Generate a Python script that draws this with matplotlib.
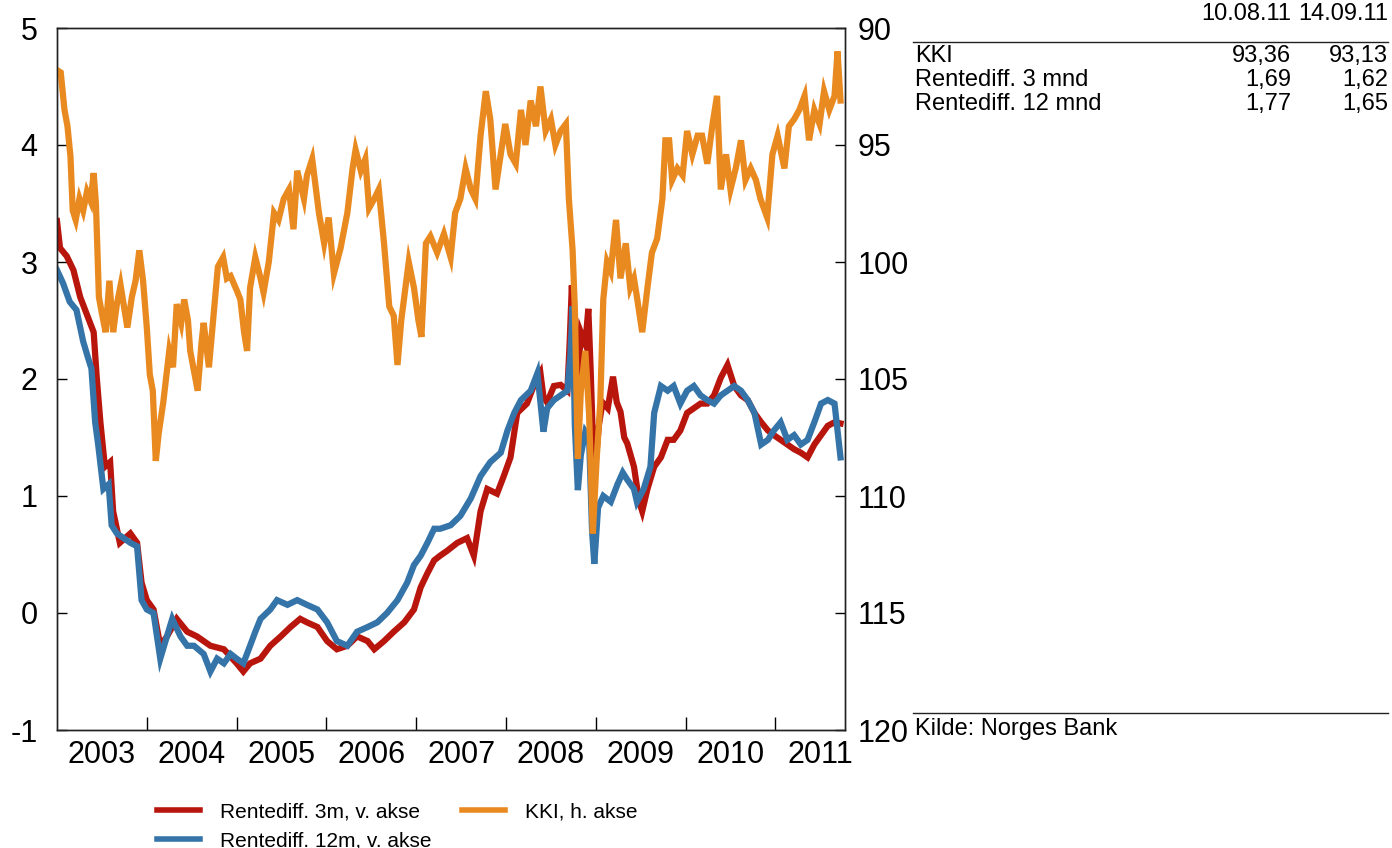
import matplotlib
matplotlib.use("Agg")
import matplotlib.pyplot as plt
from matplotlib.lines import Line2D
import numpy as np

plt.rcParams['font.family'] = ['Liberation Sans', 'DejaVu Sans']

# ---- data (months since Jan 2003, value) ----
kki_m = [0, 0.5, 1.0, 1.4, 1.8, 2.1, 2.5, 3.0, 3.5, 4.0, 4.5, 4.9, 5.2, 5.6, 6.0, 6.5, 7.0, 7.5, 8.0, 8.5,
         9.0, 9.4, 10.0, 10.5, 11.0, 11.5, 12.0, 12.4, 12.8, 13.2, 13.6, 14.2, 15.0, 15.5, 16.0, 16.6, 17.0,
         17.5, 17.8, 18.5, 18.8, 19.3, 19.6, 20.3, 21.0, 21.5, 22.2, 22.7, 23.2, 24.0, 24.5, 25.0, 25.4, 25.8,
         26.5, 27.2, 27.6, 28.3, 29.0, 29.6, 30.3, 31.0, 31.6, 32.1, 33.0, 33.4, 34.1, 35.0, 35.7, 36.3, 37.0,
         37.9, 38.8, 39.5, 39.9, 40.6, 41.2, 41.7, 42.4, 43.0, 43.7, 44.4, 45.0, 45.5, 46.0, 46.4, 47.0, 47.7,
         48.3, 48.7, 49.3, 49.9, 50.8, 51.7, 52.6, 53.2, 53.9, 54.6, 55.3, 55.9, 56.6, 57.3, 57.9, 58.6, 59.3,
         59.9, 60.6, 61.3, 62.0, 62.6, 63.3, 64.0, 64.6, 65.3, 66.0, 66.6, 67.3, 68.0, 68.4, 68.9, 69.2, 69.6,
         70.0, 70.6, 71.1, 71.6, 72.1, 72.6, 73.0, 73.5, 74.0, 74.7, 75.3, 76.0, 76.6, 77.1, 77.5, 78.2, 78.9,
         79.5, 80.2, 80.9, 81.3, 81.8, 82.2, 82.9, 83.6, 84.2, 84.9, 85.6, 86.2, 86.9, 87.6, 88.2, 88.7, 89.4,
         90.0, 90.7, 91.4, 92.0, 92.7, 93.4, 94.0, 94.9, 95.6, 96.3, 97.2, 97.8, 98.5, 99.2, 99.9, 100.5,
         101.2, 101.9, 102.5, 103.2, 103.9, 104.3, 104.7]
kki_v = [91.8, 91.9, 93.5, 94.2, 95.5, 97.8, 98.2, 97.3, 97.8, 97.0, 97.4, 96.2, 97.5, 101.5, 102.2, 103.0,
         100.8, 103.0, 101.8, 101.0, 102.0, 102.8, 101.5, 100.8, 99.5, 100.8, 102.8, 104.8, 105.5, 108.5,
         107.3, 106.0, 103.8, 104.5, 101.8, 102.6, 101.6, 102.5, 103.8, 105.0, 105.5, 103.5, 102.6, 104.5,
         102.0, 100.2, 99.8, 100.7, 100.6, 101.2, 101.6, 103.0, 103.8, 101.1, 99.8, 100.7, 101.3, 100.0, 97.9,
         98.2, 97.3, 96.9, 98.6, 96.1, 97.3, 96.3, 95.6, 97.9, 99.2, 98.1, 100.5, 99.4, 97.9, 96.0, 95.2, 96.1,
         95.6, 97.7, 97.3, 96.9, 99.2, 101.9, 102.3, 104.4, 102.5, 101.5, 100.0, 101.1, 102.5, 103.2, 99.2,
         98.9, 99.6, 98.8, 99.8, 97.9, 97.3, 96.0, 96.9, 97.3, 94.6, 92.7, 93.9, 96.9, 95.4, 94.1, 95.4, 95.8,
         93.5, 95.0, 93.1, 94.2, 92.5, 94.4, 93.9, 95.0, 94.4, 94.1, 97.3, 99.5, 102.0, 108.4, 105.5, 103.8,
         106.5, 111.6, 108.5, 106.0, 101.6, 100.0, 100.4, 98.2, 100.7, 99.2, 101.1, 100.7, 101.5, 103.0,
         101.1, 99.6, 99.0, 97.3, 94.8, 94.8, 96.5, 96.0, 96.3, 94.4, 95.4, 94.6, 94.6, 95.8, 94.1, 92.9,
         96.9, 95.4, 96.9, 96.0, 94.8, 96.5, 96.0, 96.5, 97.3, 98.1, 95.4, 94.6, 96.0, 94.2, 93.9, 93.5, 92.9,
         94.8, 93.5, 94.1, 92.7, 93.5, 92.9, 91.0, 93.1]

r3_m = [0, 0.4, 1.3, 2.2, 3.1, 4.0, 4.9, 5.3, 5.8, 6.4, 7.1, 7.5, 8.4, 9.8, 10.7, 11.3, 12.0, 12.9, 13.8, 14.7,
        16.0, 17.4, 18.7, 20.5, 22.3, 24.0, 24.9, 25.8, 27.2, 28.5, 29.9, 31.2, 32.5, 33.4, 34.8, 36.1, 37.4,
        38.8, 40.1, 41.5, 42.4, 43.7, 45.0, 46.4, 47.7, 48.6, 49.5, 50.4, 51.2, 52.1, 53.5, 54.8, 55.7, 56.6,
        57.5, 58.8, 59.7, 60.6, 61.5, 62.8, 63.7, 64.6, 65.0, 65.5, 66.4, 67.3, 68.2, 68.5, 68.8, 69.1, 69.5,
        70.0, 70.6, 71.0, 71.3, 71.6, 72.0, 72.4, 72.9, 73.6, 74.3, 74.8, 75.3, 75.8, 76.2, 77.1, 77.8, 78.2,
        78.9, 79.8, 80.7, 81.6, 82.4, 83.3, 84.2, 85.1, 86.0, 86.9, 87.8, 88.7, 89.6, 90.5, 91.4, 92.3, 93.2,
        94.1, 95.0, 95.8, 96.7, 97.6, 98.5, 99.4, 100.3, 101.2, 102.1, 103.0, 103.9, 104.7]
r3_v = [3.35, 3.12, 3.05, 2.93, 2.70, 2.55, 2.40, 2.02, 1.63, 1.25, 1.29, 0.87, 0.60, 0.68, 0.60, 0.26, 0.11,
        0.03, -0.28, -0.20, -0.05, -0.16, -0.20, -0.28, -0.31, -0.43, -0.50, -0.43, -0.39, -0.28, -0.20, -0.12,
        -0.05, -0.08, -0.12, -0.24, -0.31, -0.28, -0.20, -0.24, -0.31, -0.24, -0.16, -0.08, 0.03, 0.22, 0.34,
        0.45, 0.49, 0.53, 0.60, 0.64, 0.49, 0.87, 1.06, 1.02, 1.17, 1.33, 1.71, 1.79, 1.94, 2.05, 1.85, 1.80,
        1.94, 1.95, 1.90, 2.30, 2.80, 2.30, 1.85, 2.40, 2.30, 2.60, 2.10, 1.50, 1.30, 1.60, 1.80, 1.75, 2.02,
        1.80, 1.72, 1.50, 1.45, 1.25, 0.95, 0.87, 1.06, 1.25, 1.33, 1.48, 1.48, 1.56, 1.71, 1.75, 1.79, 1.79,
        1.86, 2.01, 2.12, 1.94, 1.86, 1.82, 1.71, 1.63, 1.56, 1.52, 1.48, 1.44, 1.40, 1.37, 1.33, 1.44, 1.52,
        1.60, 1.63, 1.62]

r12_m = [0, 0.8, 1.7, 2.6, 3.5, 4.2, 4.6, 5.1, 5.5, 6.2, 6.9, 7.3, 8.0, 8.9, 9.8, 10.7, 11.3, 12.0, 12.9, 13.8,
         14.5, 15.4, 16.5, 17.4, 18.3, 19.6, 20.5, 21.4, 22.3, 23.2, 24.0, 24.9, 25.8, 26.5, 27.2, 28.5, 29.4,
         30.8, 32.1, 33.4, 34.8, 36.1, 37.4, 38.8, 40.1, 41.5, 42.8, 44.1, 45.5, 46.8, 47.7, 48.6, 49.5, 50.4,
         51.2, 52.6, 53.9, 55.3, 56.6, 57.9, 59.3, 60.2, 61.1, 62.0, 63.3, 64.2, 65.0, 65.5, 66.4, 67.3, 68.2,
         68.6, 68.9, 69.2, 69.6, 70.0, 70.6, 71.1, 71.5, 71.8, 72.3, 73.0, 74.0, 74.9, 75.6, 76.2, 77.1, 77.5,
         78.4, 79.3, 79.8, 80.7, 81.6, 82.4, 83.3, 84.2, 85.1, 86.0, 86.9, 87.8, 88.7, 89.6, 90.5, 91.4, 92.3,
         93.2, 94.1, 95.0, 95.8, 96.7, 97.6, 98.5, 99.4, 100.3, 101.2, 102.1, 103.0, 103.9, 104.7]
r12_v = [2.93, 2.82, 2.66, 2.59, 2.32, 2.17, 2.09, 1.63, 1.44, 1.06, 1.10, 0.75, 0.68, 0.64, 0.60, 0.57, 0.11,
         0.03, 0.00, -0.39, -0.24, -0.05, -0.20, -0.28, -0.28, -0.35, -0.50, -0.39, -0.43, -0.35, -0.39, -0.43,
         -0.28, -0.16, -0.05, 0.03, 0.11, 0.07, 0.11, 0.07, 0.03, -0.08, -0.24, -0.28, -0.16, -0.12, -0.08, 0.00,
         0.11, 0.26, 0.41, 0.49, 0.60, 0.72, 0.72, 0.75, 0.83, 0.98, 1.17, 1.29, 1.37, 1.56, 1.71, 1.82, 1.90,
         2.05, 1.55, 1.75, 1.82, 1.86, 1.90, 2.20, 2.62, 1.60, 1.05, 1.35, 1.55, 1.50, 0.70, 0.42, 0.90, 1.00,
         0.95, 1.10, 1.20, 1.14, 1.06, 0.95, 1.06, 1.25, 1.71, 1.94, 1.90, 1.94, 1.79, 1.90, 1.94, 1.86, 1.82,
         1.79, 1.86, 1.90, 1.94, 1.90, 1.82, 1.71, 1.44, 1.48, 1.56, 1.63, 1.48, 1.52, 1.44, 1.48, 1.63, 1.79,
         1.82, 1.79, 1.33]

years = [2003, 2004, 2005, 2006, 2007, 2008, 2009, 2010, 2011]
left_ticks = [-1, 0, 1, 2, 3, 4, 5]
right_ticks = [90, 95, 100, 105, 110, 115, 120]

table_dates = ["10.08.11", "14.09.11"]
table_rows = ["KKI", "Rentediff. 3 mnd", "Rentediff. 12 mnd"]
table_vals = [["93,36", "93,13"], ["1,69", "1,62"], ["1,77", "1,65"]]

c_red = '#b8150d'
c_blue = '#3574a8'
c_orange = '#e98a20'

W, H = 1392, 848
fig = plt.figure(figsize=(W / 100, H / 100), dpi=100)
ax = fig.add_axes([57 / W, 1 - 730 / H, 788 / W, 702 / H])


def to_year(m):
    return 2003 + np.asarray(m) / 12.0


LW = 4.5
ax.plot(to_year(r3_m), r3_v, color=c_red, lw=LW, solid_joinstyle='miter', zorder=2)
ax.plot(to_year(r12_m), r12_v, color=c_blue, lw=LW, solid_joinstyle='miter', zorder=3)
ax.set_ylim(-1, 5)
ax.set_xlim(2003.0, 2011.775)

ax2 = ax.twinx()
ax2.plot(to_year(kki_m), kki_v, color=c_orange, lw=LW, solid_joinstyle='miter')
ax2.set_ylim(120, 90)

ax.set_yticks(left_ticks)
ax.set_yticklabels([str(t) for t in left_ticks])
ax2.set_yticks(right_ticks)
ax2.set_yticklabels([str(t) for t in right_ticks])

ax.set_xticks([y + 1 for y in years[:-1]])
ax.set_xticklabels([])
ax.set_xticks([y + 0.5 for y in years], minor=True)
ax.set_xticklabels([str(y) for y in years], minor=True)

ax.tick_params(axis='x', which='major', direction='in', length=9.5, width=1)
ax.tick_params(axis='x', which='minor', length=0, pad=7, labelsize=22)
ax.tick_params(axis='y', direction='in', length=7, width=1, pad=14, labelsize=22)
ax2.tick_params(axis='y', direction='in', length=7, width=1, pad=9, labelsize=22)

for a in (ax, ax2):
    for s in a.spines.values():
        s.set_linewidth(1)
        s.set_color('#222222')

# legend
handles = [Line2D([], [], color=c_red, lw=4),
           Line2D([], [], color=c_blue, lw=4),
           Line2D([], [], color=c_orange, lw=4)]
labels = ["Rentediff. 3m, v. akse", "Rentediff. 12m, v. akse", "KKI, h. akse"]
fig.legend(handles, labels, loc='upper left', bbox_to_anchor=(157 / W, 1 - 802 / H), ncol=2,
           frameon=False, fontsize=15, handlelength=2.06, handletextpad=0.96, columnspacing=1.45,
           labelspacing=0.5, borderpad=0, borderaxespad=0)

# table on the right
fs = 17
col_right = [1291, 1388]
for d, xr in zip(table_dates, col_right):
    fig.text(xr / W, 1 - 20 / H, d, ha='right', va='baseline', fontsize=fs)
fig.add_artist(Line2D([913 / W, 1388 / W], [1 - 42 / H] * 2, transform=fig.transFigure,
                      color='#222222', lw=1))
row_base = [62, 86, 110]
for name, vals, yb in zip(table_rows, table_vals, row_base):
    fig.text(915 / W, 1 - yb / H, name, ha='left', va='baseline', fontsize=fs)
    for v, xr in zip(vals, col_right):
        fig.text(xr / W, 1 - yb / H, v, ha='right', va='baseline', fontsize=fs)
fig.add_artist(Line2D([913 / W, 1388 / W], [1 - 713 / H] * 2, transform=fig.transFigure,
                      color='#222222', lw=1))
fig.text(915 / W, 1 - 735 / H, "Kilde: Norges Bank", ha='left', va='baseline', fontsize=fs)

fig.savefig('out.png', dpi=100)
